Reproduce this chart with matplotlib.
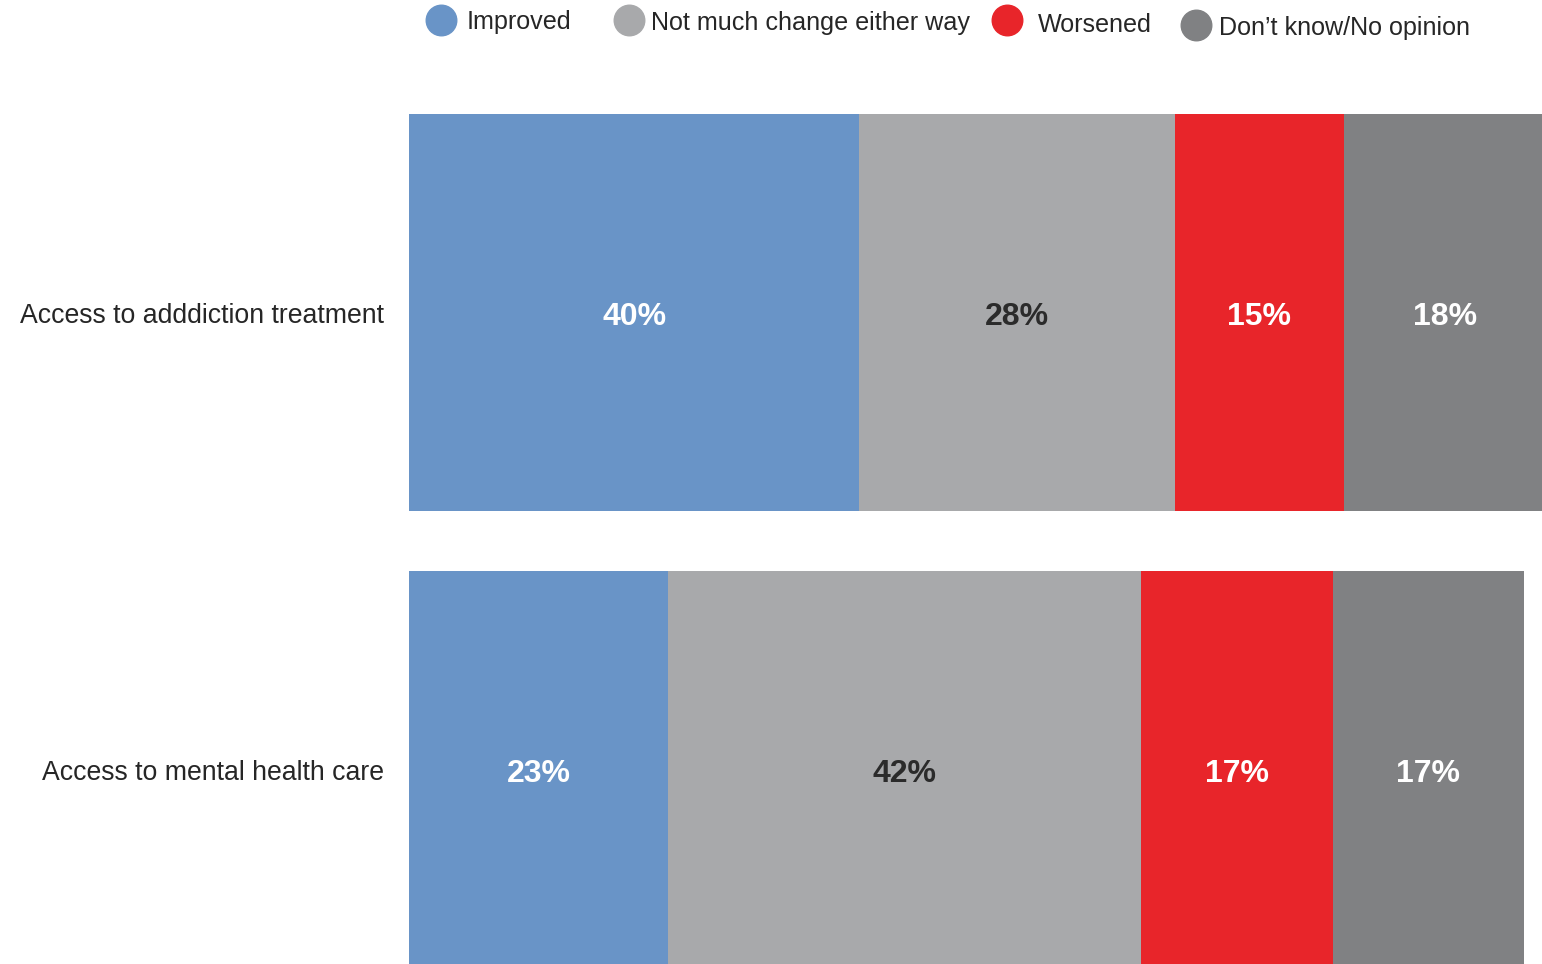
import matplotlib.pyplot as plt
import matplotlib.transforms as mtransforms
import numpy as np

categories = ['Access to adddiction treatment', 'Access to mental health care']
series = ['Improved', 'Not much change either way', 'Worsened', 'Don\u2019t know/No opinion']
values = [
    [40, 28, 15, 18],
    [23, 42, 17, 17],
]
colors = ['#6994C7', '#A8A9AB', '#E8252A', '#808183']
label_colors = ['white', '#2B2B2B', 'white', 'white']

plt.rcParams['font.family'] = ['Liberation Sans', 'DejaVu Sans']

fig = plt.figure(figsize=(15.42, 9.64), dpi=100)
ax = fig.add_axes([409 / 1542, 0, 1133 / 1542, 1])

ypos = np.array([1, 0])
h = 0.8687
vals = np.array(values, dtype=float)

# baseline offsets (pixels) so text sits like the reference
pct_trans = mtransforms.offset_copy(ax.transData, fig=fig, y=-12.5, units='dots')
cat_trans = mtransforms.offset_copy(ax.transData, fig=fig, x=-25, y=-10.2, units='dots')

left = np.zeros(len(categories))
for j, name in enumerate(series):
    ax.barh(ypos, vals[:, j], left=left, height=h, color=colors[j], linewidth=0)
    for i in range(len(categories)):
        ax.text(left[i] + vals[i, j] / 2, ypos[i], f'{int(vals[i, j])}%',
                ha='center', va='baseline', fontsize=23, fontweight='bold',
                color=label_colors[j], transform=pct_trans)
    left += vals[:, j]

ax.set_xlim(0, 100.6)
ax.set_ylim(-0.4256, 1.684)
ax.axis('off')

# category labels
for i, cat in enumerate(categories):
    ax.text(0, ypos[i], cat, ha='right', va='baseline', fontsize=19.2,
            color='#262626', transform=cat_trans, clip_on=False)

# legend (hand placed, entries are not evenly spaced in the original)
leg_x = [441, 629, 1007, 1196]
leg_cy = [20.3, 20.3, 20.3, 25]
leg_tx = [467, 651, 1038, 1219]
leg_base = [29, 30, 32.5, 34.5]
for j, name in enumerate(series):
    fig.lines.append(plt.Line2D([leg_x[j] / 1542], [1 - leg_cy[j] / 964], marker='o',
                                markersize=22, color=colors[j], linestyle='none',
                                transform=fig.transFigure, figure=fig))
    fig.text(leg_tx[j] / 1542, 1 - leg_base[j] / 964, name, ha='left', va='baseline',
             fontsize=18.1, color='#262626')

fig.savefig('out.png', dpi=100)
